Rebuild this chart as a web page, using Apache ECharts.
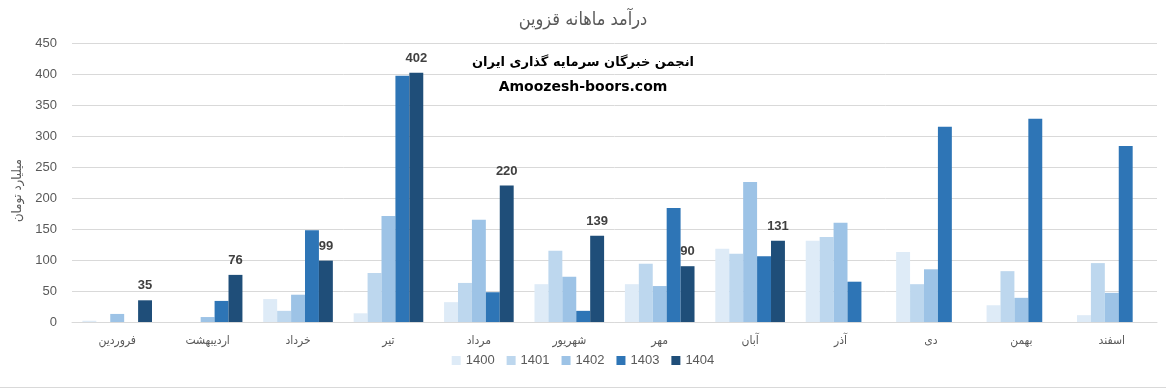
<!DOCTYPE html>
<html>
<head>
<meta charset="utf-8">
<script src="https://cdn.jsdelivr.net/npm/echarts@6/dist/echarts.min.js"></script>
<style>html,body{margin:0;padding:0;background:#fff}#c{width:1166px;height:390px}</style>
</head>
<body>
<div id="c"></div>
<script>
const months = ['فروردین','اردیبهشت','خرداد','تیر','مرداد','شهریور','مهر','آبان','آذر','دی','بهمن','اسفند'];
const years = ['1400','1401','1402','1403','1404'];
const s1400 = [2, 0, 37, 14, 32, 61, 61, 118, 131, 113, 27, 11];
const s1401 = [0, 0, 18, 79, 63, 115, 94, 110, 137, 61, 82, 95];
const s1402 = [13, 8, 44, 171, 165, 73, 58, 226, 160, 85, 39, 47];
const s1403 = [0, 34, 148, 397, 48, 18, 184, 106, 65, 315, 328, 284];
const s1404 = [35, 76, 99, 402, 220, 139, 90, 131, null, null, null, null];
const yTicks = {min: 0, max: 450, interval: 50};
const colors = ['#DEEBF7', '#BDD7EE', '#9DC3E6', '#2E75B6', '#1F4E79'];
const allSeries = [s1400, s1401, s1402, s1403, s1404];

const fa = "'DejaVu Sans Condensed','DejaVu Sans',sans-serif";
const chart = echarts.init(document.getElementById('c'), null, {renderer: 'canvas'});
chart.setOption({
  animation: false,
  color: colors,
  title: {
    text: 'درآمد ماهانه قزوین',
    left: 'center', top: 6,
    textStyle: {color: '#595959', fontSize: 18, fontWeight: 'normal', fontFamily: fa}
  },
  grid: {left: 72, right: 9, top: 43, bottom: 68},
  legend: {
    bottom: 18, left: 'center',
    itemWidth: 9, itemHeight: 9, itemGap: 12,
    icon: 'rect',
    textStyle: {color: '#595959', fontSize: 13, fontFamily: "'Liberation Sans',Arial,sans-serif"},
    data: years
  },
  xAxis: {
    type: 'category', data: months,
    axisLine: {lineStyle: {color: '#D9D9D9'}},
    axisTick: {show: false},
    axisLabel: {color: '#595959', fontSize: 12, fontFamily: fa, margin: 13, interval: 0}
  },
  yAxis: {
    type: 'value', min: yTicks.min, max: yTicks.max, interval: yTicks.interval,
    name: 'میلیارد تومان', nameLocation: 'middle', nameGap: 48, nameRotate: 90,
    nameTextStyle: {color: '#595959', fontSize: 13, fontFamily: fa, padding: [0, 16, 0, 0]},
    axisLine: {show: false}, axisTick: {show: false},
    axisLabel: {color: '#595959', fontSize: 13, fontFamily: "'Liberation Sans',Arial,sans-serif", margin: 15},
    splitLine: {lineStyle: {color: '#D9D9D9'}}
  },
  series: years.map((y, i) => ({
    name: y, type: 'bar', data: allSeries[i],
    barGap: '0%', barCategoryGap: '23%',
    itemStyle: {color: colors[i]},
    label: i === 4 ? {
      show: true, position: 'top', distance: 8,
      color: '#404040', fontSize: 13, fontWeight: 'bold',
      fontFamily: "'Liberation Sans',Arial,sans-serif",
      formatter: p => (p.value == null ? '' : p.value)
    } : {show: false}
  })),
  graphic: [
    {type: 'text', left: 'center', top: 56, style: {text: 'انجمن خبرگان سرمایه گذاری ایران', fill: '#000', font: "bold 13px 'DejaVu Sans',sans-serif"}},
    {type: 'text', left: 'center', top: 80, style: {text: 'Amoozesh-boors.com', fill: '#000', font: "bold 14px 'DejaVu Sans',sans-serif"}},
    {type: 'rect', left: 0, top: 387, shape: {width: 1166, height: 1}, style: {fill: '#D9D9D9'}}
  ]
});
</script>
</body>
</html>
